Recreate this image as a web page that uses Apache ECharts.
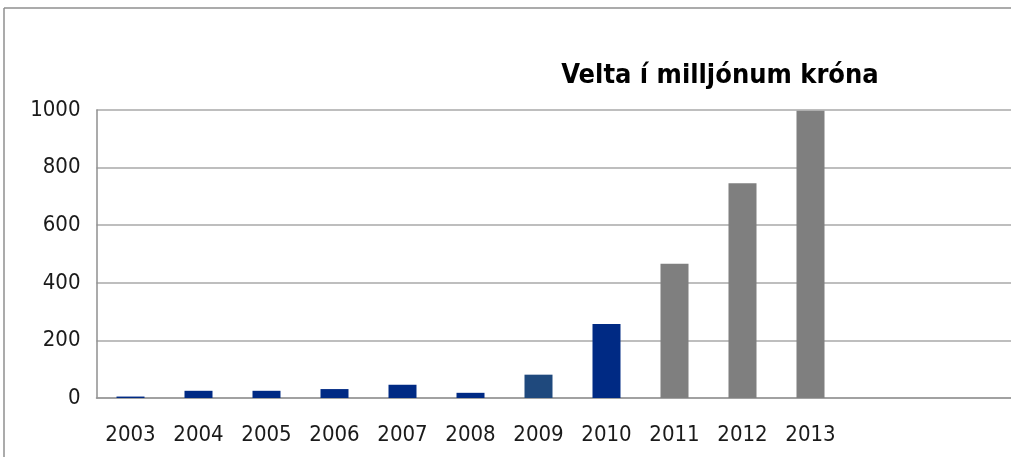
<!DOCTYPE html>
<html>
<head>
<meta charset="utf-8">
<script src="https://cdn.jsdelivr.net/npm/echarts@6/dist/echarts.min.js"></script>
<style>
  html, body { margin: 0; padding: 0; background: #fff; overflow: hidden; }
  #chart { width: 1011px; height: 457px; }
</style>
</head>
<body>
<div id="chart"></div>
<script>
// Yearly turnover, million ISK
const years = ['2003', '2004', '2005', '2006', '2007', '2008', '2009', '2010', '2011', '2012', '2013'];
const turnover = [5, 25, 25, 31, 46, 18, 81, 257, 466, 746, 997];
const yTicks = [0, 200, 400, 600, 800, 1000];
// trailing empty slots on the category axis
const emptySlots = ['', '', ''];

const navy = '#002A84';
const steel = '#1F497D';
const grey = '#7F7F7F';
const barColors = [navy, navy, navy, navy, navy, navy, steel, navy, grey, grey, grey];

const chart = echarts.init(document.getElementById('chart'), null, { renderer: 'canvas' });

const labelFont = 'DejaVu Sans Condensed';
const frameColor = '#8f8f8f';

chart.setOption({
  animation: false,
  backgroundColor: '#ffffff',
  title: {
    text: 'Velta í milljónum króna',
    left: 715,
    top: 57,
    textAlign: 'center',
    textStyle: {
      fontFamily: labelFont,
      fontWeight: 'bold',
      fontSize: 27,
      color: '#000000'
    }
  },
  graphic: [
    {
      // outer frame: top and left edges
      type: 'line',
      shape: { x1: 4, y1: 8, x2: 1011, y2: 8 },
      style: { stroke: frameColor, lineWidth: 1.5 },
      silent: true, z: 10
    },
    {
      type: 'line',
      shape: { x1: 4, y1: 8, x2: 4, y2: 457 },
      style: { stroke: frameColor, lineWidth: 1.5 },
      silent: true, z: 10
    }
  ],
  grid: {
    left: 96.5,
    top: 110,
    right: -37.5,
    bottom: 59,
    containLabel: false,
    outerBoundsMode: 'none'
  },
  xAxis: {
    type: 'category',
    data: years.concat(emptySlots),
    boundaryGap: true,
    axisLine: { show: true, lineStyle: { color: '#989898', width: 1.5 } },
    axisTick: { show: false },
    axisLabel: {
      interval: 0,
      margin: 26,
      fontFamily: labelFont,
      fontSize: 22,
      color: '#1a1a1a'
    },
    splitLine: { show: false }
  },
  yAxis: {
    type: 'value',
    min: yTicks[0],
    max: yTicks[yTicks.length - 1],
    interval: yTicks[1] - yTicks[0],
    axisLine: { show: true, lineStyle: { color: '#8f8f8f', width: 1.5 } },
    axisTick: { show: false },
    axisLabel: {
      margin: 16,
      fontFamily: labelFont,
      fontSize: 22,
      color: '#1a1a1a',
      formatter: v => String(v)
    },
    splitLine: { show: true, lineStyle: { color: '#a8a8a8', width: 1.5 } }
  },
  series: [{
    type: 'bar',
    barWidth: 28,
    data: turnover.map((v, i) => ({ value: v, itemStyle: { color: barColors[i] } }))
  }]
});
</script>
</body>
</html>
